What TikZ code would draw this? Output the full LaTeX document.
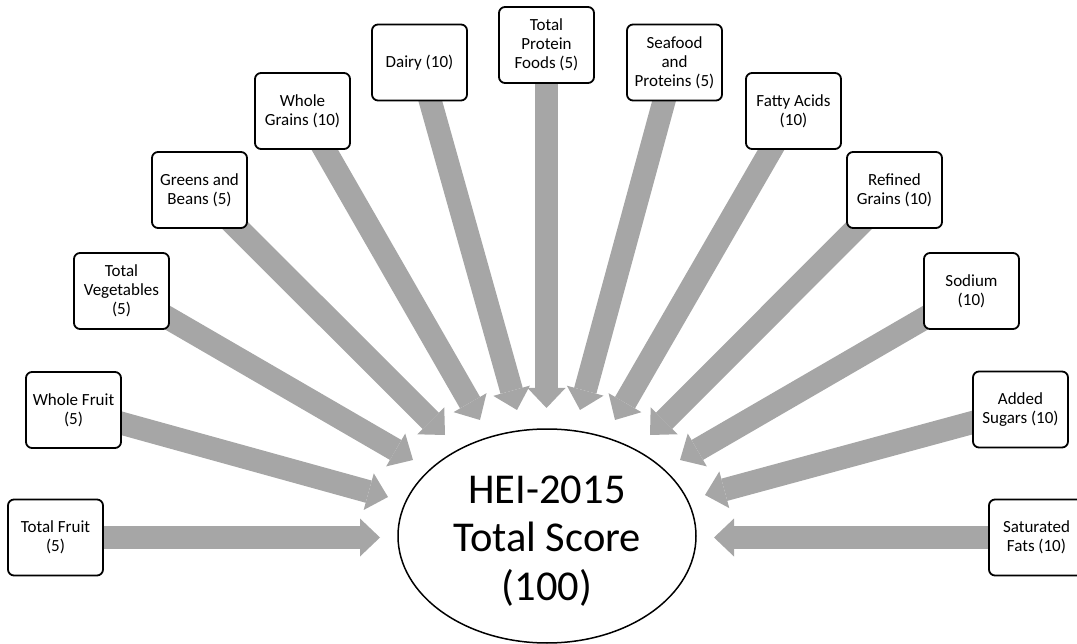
\documentclass[tikz,border=0pt]{standalone}
\usepackage{fontspec}
\setmainfont{Carlito}
\usetikzlibrary{arrows.meta,shapes.geometric,backgrounds}
\definecolor{arrgray}{HTML}{A6A6A6}
\begin{document}
\begin{tikzpicture}[x=1pt,y=-1pt,
  box/.style={draw, line width=1.8pt, rounded corners=6pt, fill=white,
    minimum width=95pt, minimum height=76pt, align=center,
    font=\fontsize{17}{19}\selectfont, inner sep=2pt},
  hub/.style={ellipse, draw, line width=1.5pt, fill=white,
    minimum width=298pt, minimum height=214pt, inner sep=0pt},
  hubtext/.style={font=\fontsize{42.5}{48.5}\selectfont, align=center, yshift=-5pt},
  arr/.style={draw=arrgray, line width=23pt,
    -{Triangle[width=38pt,length=20pt,line width=0pt]}}
]
\useasboundingbox (0,0) rectangle (1077,644);
\clip (0,0) rectangle (1077,644);

\node[hub, label={[hubtext]center:{HEI-2015\\Total Score\\(100)}}] (hei) at (547,536) {};

\node[box] (tf)  at (55.5,537.5) {Total Fruit\\(5)};
\node[box] (wf)  at (73.5,410)   {Whole Fruit\\(5)};
\node[box] (tv)  at (121.5,291)  {Total\\Vegetables\\(5)};
\node[box] (gb)  at (199.5,190)  {Greens and\\Beans (5)};
\node[box] (wg)  at (302.5,111)  {Whole\\Grains (10)};
\node[box] (da)  at (419.5,62.5) {Dairy (10)};
\node[box] (tp)  at (546.5,45)   {Total\\Protein\\Foods (5)};
\node[box] (sf)  at (674.5,62.5) {Seafood\\and\\Proteins (5)};
\node[box] (fa)  at (793.5,111)  {Fatty Acids\\(10)};
\node[box] (rg)  at (894.5,190)  {Refined\\Grains (10)};
\node[box] (so)  at (971.5,291)  {Sodium\\(10)};
\node[box] (as)  at (1020.5,409.5) {Added\\Sugars (10)};
\node[box] (sat) at (1036.5,537.5) {Saturated\\Fats (10)};

\coordinate (ttf)  at (380,537.5);
\coordinate (twf)  at (388,497);
\coordinate (ttv)  at (413,460);
\coordinate (tgb)  at (445,435);
\coordinate (twg)  at (480,420);
\coordinate (tda)  at (517,410);
\coordinate (ttp)  at (546.5,408);
\coordinate (tsf)  at (580,410);
\coordinate (tfa)  at (615,420);
\coordinate (trg)  at (650,435);
\coordinate (tso)  at (680,460);
\coordinate (tas)  at (705,495);
\coordinate (tsat) at (714,537.5);

\begin{scope}[on background layer]
\foreach \n in {tf,wf,tv,gb,wg,da,tp,sf,fa,rg,so,as,sat}
  \draw[arr] (\n.center) -- (t\n);
\end{scope}
\end{tikzpicture}
\end{document}
